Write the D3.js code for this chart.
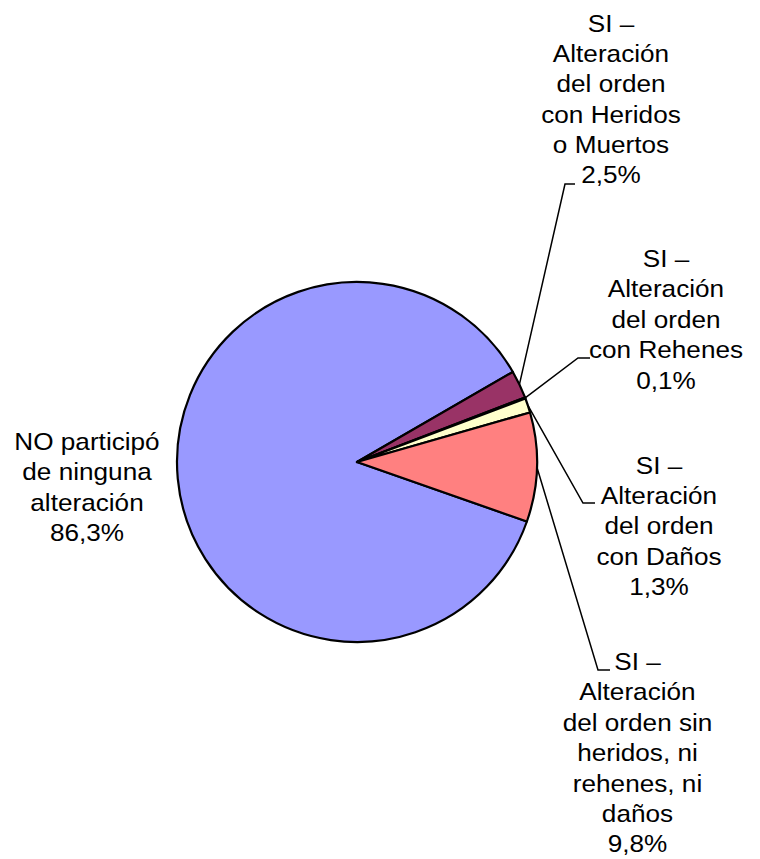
<!DOCTYPE html>
<html lang="es">
<head>
    <meta charset="UTF-8">
    <title>Pie</title>
    <script src="https://cdn.jsdelivr.net/npm/d3@7"></script>
    <style>
        body { margin: 0; background: #fff; }
        .lbl { font-family: "Liberation Sans", Arial, sans-serif; font-size: 24px; fill: #000; }
    </style>
</head>
<body>
<div id="fig"></div>
<script>
    // data
    const categories = [
        "NO participó de ninguna alteración",
        "SI – Alteración del orden con Heridos o Muertos",
        "SI – Alteración del orden con Rehenes",
        "SI – Alteración del orden con Daños",
        "SI – Alteración del orden sin heridos, ni rehenes, ni daños"
    ]
    const values = [86.3, 2.5, 0.1, 1.3, 9.8]
    const valueLabels = ["86,3%", "2,5%", "0,1%", "1,3%", "9,8%"]
    // how the label text wraps in the picture
    const labelLines = [
        ["NO participó", "de ninguna", "alteración"],
        ["SI –", "Alteración", "del orden", "con Heridos", "o Muertos"],
        ["SI –", "Alteración", "del orden", "con Rehenes"],
        ["SI –", "Alteración", "del orden", "con Daños"],
        ["SI –", "Alteración", "del orden sin", "heridos, ni", "rehenes, ni", "daños"]
    ]
    const colors = ["#9999FF", "#993366", "#CCFFFF", "#FFFFCC", "#FF8080"]

    // layout: label block center x, first baseline y, leader elbow
    const labelPos = [
        {x: 87, y: 450, elbow: null},
        {x: 611, y: 31.5, elbow: [565, 184, 575]},
        {x: 666, y: 267, elbow: [578, 358, 590]},
        {x: 659, y: 473.5, elbow: [583, 503, 595]},
        {x: 637.5, y: 670, elbow: [598, 670, 610]}
    ]
    const lineGap = 30.4

    const W = 760, H = 859
    const cx = 357, cy = 462, r = 180

    let svg = d3.select("#fig")
        .append("svg")
        .attr("width", W)
        .attr("height", H)

    let pie = d3.pie()
        .sort(null)
        .value(d => d)
        .startAngle(109.3 * Math.PI / 180)
        .endAngle(109.3 * Math.PI / 180 + 2 * Math.PI)

    let arcs = pie(values)
    let arc = d3.arc().innerRadius(0).outerRadius(r)
    let edge = d3.arc().innerRadius(r).outerRadius(r)

    let g = svg.append("g").attr("transform", `translate(${cx},${cy})`)

    g.selectAll(".slice")
        .data(arcs)
        .enter()
        .append("path")
        .attr("class", "slice")
        .attr("d", arc)
        .attr("fill", (d, i) => colors[i])
        .attr("stroke", "#000")
        .attr("stroke-width", 2.2)
        .attr("stroke-linejoin", "round")

    // leader lines
    arcs.forEach((d, i) => {
        let e = labelPos[i].elbow
        if (!e) return
        let p = edge.centroid(d)
        svg.append("polyline")
            .attr("points", `${cx + p[0]},${cy + p[1]} ${e[0]},${e[1]} ${e[2]},${e[1]}`)
            .attr("fill", "none")
            .attr("stroke", "#000")
            .attr("stroke-width", 1.5)
    })

    // labels (text is a bit stretched sideways in the original)
    labelLines.forEach((lines, i) => {
        let all = lines.concat([valueLabels[i]])
        let pos = labelPos[i]
        let t = svg.append("text")
            .attr("class", "lbl")
            .attr("text-anchor", "middle")
            .attr("transform", `translate(${pos.x},${pos.y}) scale(1.09,1)`)
        all.forEach((s, k) => {
            t.append("tspan")
                .attr("x", 0)
                .attr("y", k * lineGap)
                .text(s)
        })
    })
</script>
</body>
</html>
